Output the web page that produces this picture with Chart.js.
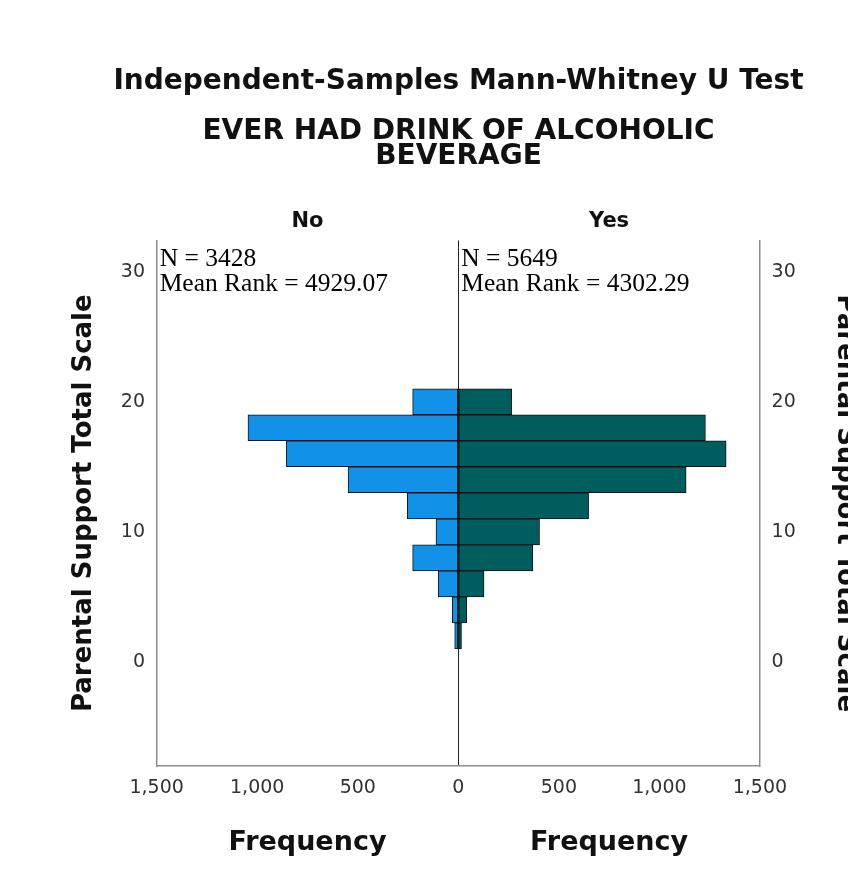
<!DOCTYPE html>
<html>
<head>
<meta charset="utf-8">
<title>Mann-Whitney U</title>
<script src="https://cdn.jsdelivr.net/npm/chart.js@4.4.1/dist/chart.umd.min.js"></script>
<style>
  html, body { margin: 0; padding: 0; background: #fff; overflow: hidden; }
  #wrap { width: 880px; height: 892px; }
</style>
</head>
<body>
<div id="wrap"><canvas id="chart" width="880" height="892"></canvas></div>
<script>
// ── Data ─────────────────────────────────────────────────
const groups     = ['No', 'Yes'];
const binCenters = [20, 18, 16, 14, 12, 10, 8, 6, 4, 2];
const noFreq     = [227, 1046, 855, 548, 254, 111, 227, 100, 30, 18];
const yesFreq    = [266, 1229, 1332, 1133, 648, 404, 371, 128, 42, 16];
const groupN     = [3428, 5649];
const meanRank   = ['4929.07', '4302.29'];
const yTicks     = [0, 10, 20, 30];
const xLabels    = ['Frequency', 'Frequency'];

const SANS  = '"DejaVu Sans", sans-serif';
const SERIF = '"Liberation Serif", serif';
const FRAME = '#8c8c8c';

// ── N / mean rank labels in each panel ───────────────────
const statsText = {
  id: 'statsText',
  afterDatasetsDraw(chart) {
    const { ctx, chartArea, scales } = chart;
    const starts = [scales.x.getPixelForValue(-1500), scales.x.getPixelForValue(0)];
    ctx.save();
    ctx.font = '25.5px ' + SERIF;
    ctx.fillStyle = '#000';
    ctx.textBaseline = 'alphabetic';
    starts.forEach((x0, i) => {
      ctx.fillText('N = ' + groupN[i], x0 + 3, chartArea.top + 26);
      ctx.fillText('Mean Rank = ' + meanRank[i], x0 + 3, chartArea.top + 51);
    });
    ctx.restore();
  }
};

const yAxisBase = {
  type: 'linear',
  min: -8, max: 32.4,
  offset: false,
  afterBuildTicks: s => { s.ticks = yTicks.map(v => ({ value: v })); },
  grid: { display: false, drawTicks: false, offset: false },
  border: { display: true, color: FRAME, width: 1.5 },
  ticks: { font: { family: SANS, size: 19 }, color: '#333', padding: 11.7 }
};

new Chart(document.getElementById('chart'), {
  type: 'bar',
  data: {
    datasets: [
      {
        label: groups[0],
        data: binCenters.map((y, i) => ({ x: -noFreq[i], y })),
        backgroundColor: '#1192e8'
      },
      {
        label: groups[1],
        data: binCenters.map((y, i) => ({ x: yesFreq[i], y })),
        backgroundColor: '#005d5d'
      }
    ].map(d => Object.assign(d, {
      borderColor: '#111', borderWidth: 1, borderSkipped: false,
      barPercentage: 1, categoryPercentage: 1, grouped: false
    }))
  },
  options: {
    indexAxis: 'y',
    responsive: false,
    devicePixelRatio: 1,
    animation: false,
    layout: { padding: { left: 57, right: 20, top: 0, bottom: 16 } },
    plugins: {
      legend: { display: false },
      tooltip: { enabled: false },
      title: {
        display: true,
        text: 'Independent-Samples Mann-Whitney U Test',
        font: { family: SANS, size: 28, weight: 'bold' },
        color: '#111',
        padding: { top: 65, bottom: 0 }
      },
      subtitle: {
        display: true,
        text: ['EVER HAD DRINK OF ALCOHOLIC', 'BEVERAGE'],
        font: { family: SANS, size: 28, weight: 'bold', lineHeight: 0.9 },
        color: '#111',
        padding: { top: 20.4, bottom: 33 }
      }
    },
    scales: {
      x: {
        type: 'linear',
        min: -1500, max: 1500,
        ticks: {
          stepSize: 500,
          font: { family: SANS, size: 19 }, color: '#333', padding: 10.6,
          callback: v => Math.abs(v).toLocaleString('en-US')
        },
        grid: {
          drawTicks: false,
          color: c => (c.tick && c.tick.value === 0 ? '#222' : 'rgba(0,0,0,0)'),
          lineWidth: 1
        },
        border: { display: true, color: FRAME, width: 1.5 }
      },
      xFreq: {
        type: 'category',
        position: 'bottom',
        labels: xLabels,
        offset: true,
        weight: 1,
        grid: { display: false, drawTicks: false },
        border: { display: false },
        ticks: { font: { family: SANS, size: 27, weight: 'bold' }, color: '#111', padding: 16.8 }
      },
      xTop: {
        type: 'category',
        position: 'top',
        labels: groups,
        offset: true,
        grid: { display: false, drawTicks: false },
        border: { display: false },
        ticks: { font: { family: SANS, size: 21, weight: 'bold' }, color: '#111', padding: 6.4 }
      },
      y: Object.assign({}, yAxisBase, {
        position: 'left',
        title: {
          display: true, text: 'Parental Support Total Scale',
          font: { family: SANS, size: 26, weight: 'bold' }, color: '#111',
          padding: { top: 11.4, bottom: 9.5 }
        }
      }),
      y2: Object.assign({}, yAxisBase, {
        position: 'right',
        title: {
          display: true, text: 'Parental Support Total Scale',
          font: { family: SANS, size: 26, weight: 'bold' }, color: '#111',
          padding: { top: 0, bottom: 21.3 }
        }
      })
    }
  },
  plugins: [statsText]
});
</script>
</body>
</html>
